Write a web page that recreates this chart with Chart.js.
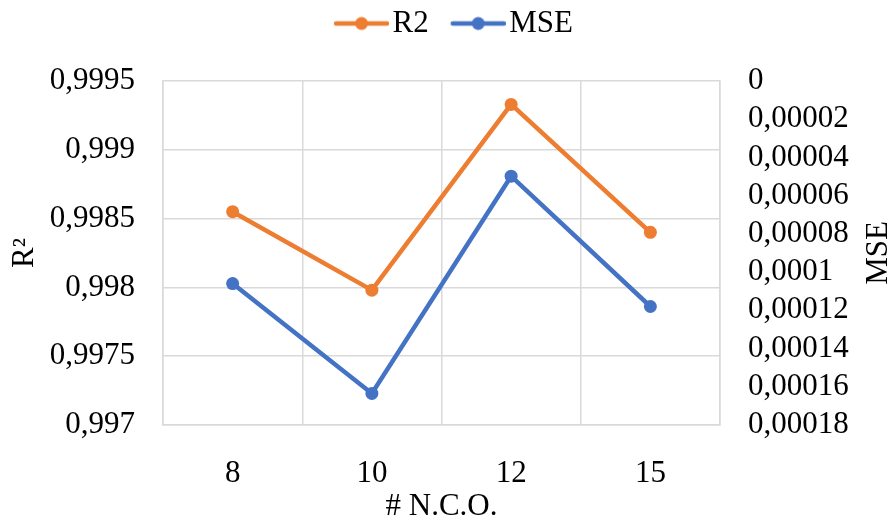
<!DOCTYPE html>
<html>
<head>
<meta charset="utf-8">
<script src="https://cdn.jsdelivr.net/npm/chart.js@4.4.1/dist/chart.umd.min.js"></script>
<style>
  html, body { margin: 0; padding: 0; background: #fff; }
  #wrap { width: 893px; height: 522px; }
</style>
</head>
<body>
<div id="wrap"><canvas id="chart" width="893" height="522"></canvas></div>
<script>
const categories = ["8", "10", "12", "15"];
const r2Values = [0.99855, 0.99798, 0.99933, 0.99840];
const mseValues = [0.000106, 0.0001635, 0.0000498, 0.000118];

const orange = "#ED7D31";
const blue = "#4472C4";
const gridColor = "#d9d9d9";
const fontFamily = "'Liberation Serif', 'Times New Roman', serif";

// comma decimal like the original
function fmt(v, digits) {
  return Number(v.toFixed(digits)).toString().replace(".", ",");
}

// line + dot image for the legend (left part transparent, shifts the mark right)
function legendMark(color) {
  const c = document.createElement("canvas");
  c.width = 81; c.height = 16;
  const g = c.getContext("2d");
  g.strokeStyle = color;
  g.lineWidth = 4.5;
  g.lineCap = "round";
  g.beginPath(); g.moveTo(28, 8); g.lineTo(79, 8); g.stroke();
  g.fillStyle = color;
  g.beginPath(); g.arc(53.5, 8, 6.5, 0, Math.PI * 2); g.fill();
  return c;
}
const marks = [legendMark(orange), legendMark(blue)];

// extra space under the legend
const legendGap = {
  id: "legendGap",
  beforeInit(chart) {
    const fit = chart.legend.fit;
    chart.legend.fit = function () {
      fit.call(this);
      this.height += 32;
    };
  }
};

// right axis title reads bottom-to-top, like Excel
const mseTitle = {
  id: "mseTitle",
  afterDraw(chart) {
    const ctx = chart.ctx;
    const area = chart.chartArea;
    ctx.save();
    ctx.translate(879, (area.top + area.bottom) / 2);
    ctx.rotate(-Math.PI / 2);
    ctx.font = "31px " + fontFamily;
    ctx.fillStyle = "#000";
    ctx.textAlign = "center";
    ctx.textBaseline = "middle";
    ctx.fillText("MSE", 0, 0);
    ctx.restore();
  }
};

new Chart(document.getElementById("chart"), {
  type: "line",
  data: {
    labels: categories,
    datasets: [
      {
        label: "R2",
        data: r2Values,
        yAxisID: "y",
        borderColor: orange,
        backgroundColor: orange,
        borderWidth: 4.5,
        pointRadius: 6.5,
        pointBorderWidth: 0,
        tension: 0
      },
      {
        label: "MSE",
        data: mseValues,
        yAxisID: "y1",
        borderColor: blue,
        backgroundColor: blue,
        borderWidth: 4.5,
        pointRadius: 6.5,
        pointBorderWidth: 0,
        tension: 0
      }
    ]
  },
  options: {
    responsive: false,
    animation: false,
    layout: { padding: { top: 0, left: 0, right: 0, bottom: 0 } },
    plugins: {
      tooltip: { enabled: false },
      legend: {
        position: "top",
        labels: {
          usePointStyle: true,
          pointStyleWidth: 57,
          padding: 8,
          color: "#000",
          font: { family: fontFamily, size: 31 },
          generateLabels(chart) {
            return chart.data.datasets.map((ds, i) => ({
              text: ds.label,
              pointStyle: marks[i],
              fillStyle: ds.borderColor,
              strokeStyle: ds.borderColor,
              lineWidth: 0,
              fontColor: "#000",
              datasetIndex: i,
              hidden: false
            }));
          }
        }
      }
    },
    scales: {
      x: {
        offset: true,
        grid: { color: gridColor, offset: true, drawTicks: false, lineWidth: 1.5 },
        border: { color: gridColor, width: 1.5 },
        ticks: { color: "#000", padding: 30, font: { family: fontFamily, size: 31 } },
        title: {
          display: true,
          text: "# N.C.O.",
          color: "#000",
          padding: { top: 0, bottom: 0 },
          font: { family: fontFamily, size: 31, lineHeight: 1 }
        },
        afterFit(scale) { scale.height = 97; }
      },
      y: {
        position: "left",
        min: 0.997,
        max: 0.9995,
        grid: { color: gridColor, drawTicks: false, lineWidth: 1.5 },
        border: { color: gridColor, width: 1.5 },
        ticks: {
          stepSize: 0.0005,
          color: "#000",
          padding: 28,
          font: { family: fontFamily, size: 31 },
          callback: v => fmt(v, 4)
        },
        title: {
          display: true,
          text: "R²",
          color: "#000",
          padding: { top: 6, bottom: 0 },
          font: { family: fontFamily, size: 31 }
        },
        afterFit(scale) { scale.width = 163; }
      },
      y1: {
        position: "right",
        reverse: true,
        min: 0,
        max: 0.00018,
        grid: { display: false, drawTicks: false },
        border: { color: gridColor, width: 1.5 },
        ticks: {
          stepSize: 0.00002,
          autoSkip: false,
          color: "#000",
          padding: 28,
          font: { family: fontFamily, size: 31 },
          callback: v => fmt(v, 6)
        },
        afterFit(scale) { scale.width = 173; }
      }
    }
  },
  plugins: [legendGap, mseTitle]
});
</script>
</body>
</html>
